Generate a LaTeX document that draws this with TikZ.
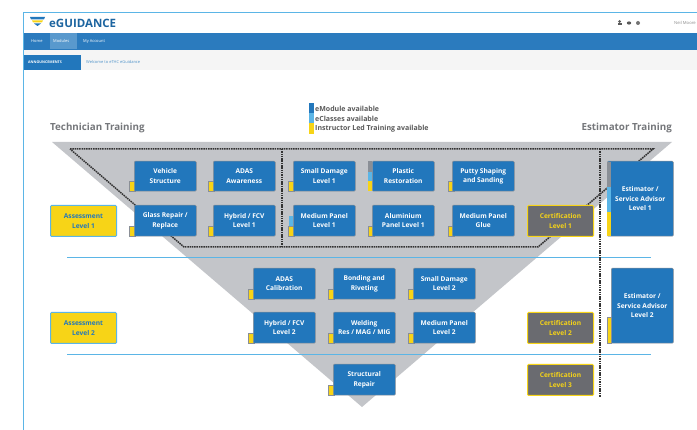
\documentclass[tikz,border=0pt]{standalone}
\usepackage{fontspec}
\setmainfont{Open Sans}
\definecolor{bandblue}{HTML}{2B7BBE}
\definecolor{boxblue}{HTML}{2277BC}
\definecolor{lineblue}{HTML}{5BB5E6}
\definecolor{tri}{HTML}{C3C5C9}
\definecolor{yel}{HTML}{F7D417}
\definecolor{certgray}{HTML}{6A6B70}
\definecolor{edgegray}{HTML}{8A8F96}
\definecolor{titlegray}{HTML}{75777B}
\tikzset{x=1pt,y=-1pt,
 course/.style={fill=boxblue,draw=edgegray,line width=.5pt,rounded corners=1pt,text=white,font=\bfseries\fontsize{6.6}{9.5}\selectfont,align=center,inner sep=0pt,anchor=north west},
 assess/.style={course,fill=yel,draw=lineblue,line width=1pt,text=boxblue},
 cert/.style={course,fill=certgray,draw=yel,line width=1pt,text=yel},
 tag/.style={fill=yel,draw=edgegray,line width=.3pt},
 dashline/.style={line width=1.5pt,draw=black!80,dash pattern=on 1.5pt off .8pt},
 sep/.style={draw=lineblue,line width=.8pt},
 head/.style={font=\bfseries\fontsize{9.8}{11}\selectfont,text=titlegray,anchor=west,inner sep=0pt},
 legendtxt/.style={font=\bfseries\fontsize{7}{8}\selectfont,text=black!65,anchor=west,inner sep=0pt},
 nav/.style={font=\fontsize{4}{5}\selectfont,text=white,anchor=west,inner sep=0pt}}
\newcommand{\crs}[6]{\node[course,minimum width=#3 pt,minimum height=#4 pt] (#5) at (#1,#2) {#6};}
\begin{document}
\begin{tikzpicture}
\useasboundingbox (0,0) rectangle (697,430);
\fill[white] (0,0) rectangle (697,430);
% page frame
\draw[lineblue,line width=.8pt] (697,12.5) -- (23.5,12.5) -- (23.5,430);
\fill[bandblue] (24,33) rectangle (697,50);
\fill[black!4] (24,50) rectangle (697,70);
\fill[boxblue!75!white] (50,33.5) rectangle (77,49.5);
\node[nav] (home) at (31,41.5) {Home};
\node[nav] (mods) at (53,41.5) {Modules};
\node[nav] (acc) at (83,41.5) {My Account};
\fill[boxblue] (24,55) rectangle (81,70);
\node[nav,font=\bfseries\fontsize{3.6}{5}\selectfont] (ann) at (28,62.5) {ANNOUNCEMENTS};
\node[nav,text=boxblue!80] (wel) at (86,62.5) {Welcome to eTHC eGuidance};
% logo
\fill[boxblue] (30,17) -- (45,17) -- (44,19.5) -- (31,19.5) -- cycle;
\fill[yel] (32,20.5) -- (43,20.5) -- (42,22.5) -- (33,22.5) -- cycle;
\fill[boxblue] (34,23.5) -- (41,23.5) -- (37.5,26) -- cycle;
\node[font=\bfseries\fontsize{11.5}{13}\selectfont,text=boxblue!85!black,anchor=west,inner sep=0pt] (logo) at (49,23) {eGUIDANCE};
\node[font=\fontsize{4.2}{5}\selectfont,text=black!45,anchor=east,inner sep=0pt] (user) at (696,23) {Neil Moore};
\fill[black!65] (619.5,21.5) circle (1.5);
\fill[black!65] (617.5,25) rectangle (621.5,23);
\fill[black!65] (629,23) ellipse (2.2 and 1.6);
\fill[black!55] (638,23) circle (2);
% triangle
\fill[tri] (52,142) -- (672,142) -- (362,407) -- cycle;
% separators
\draw[sep] (67,257) -- (651,257);
\draw[sep] (67,354) -- (651,354);
% dashed
\draw[dashline] (70,149) -- (653,149) -- (538,247) -- (184,247) -- cycle;
\draw[dashline] (282,149) -- (282,247);
\draw[dashline] (600,149) -- (600,397);
% titles and legend
\node[head] (tech) at (50,127.5) {Technician Training};
\node[head,anchor=east] (est) at (672,127.5) {Estimator Training};
\fill[boxblue] (309,103) rectangle (314,113);
\fill[lineblue] (309,113) rectangle (314,123.5);
\fill[yel] (309,123.5) rectangle (314,134);
\node[legendtxt] (l1) at (315,108.5) {eModule available};
\node[legendtxt] (l2) at (315,118.5) {eClasses available};
\node[legendtxt] (l3) at (315,128.5) {Instructor Led Training available};
% small tags (behind boxes)
\foreach \x/\y in {129/181,208/181,288/181,129/226,208/226,288/226,448/181,368/226,448/226,248/289,328/289,408/289,248/333,328/333,408/333,328/385}
 \draw[tag] (\x,\y) rectangle ++(6,10);
\fill[lineblue] (289,216) rectangle (293,226);
% course boxes
\crs{134}{161}{62}{30}{a1}{Vehicle\\Structure}
\crs{213}{161}{62}{30}{a2}{ADAS\\Awareness}
\crs{293}{161}{62}{30}{a3}{Small Damage\\Level 1}
\crs{372}{161}{62}{30}{a4}{Plastic\\Restoration}
\crs{452}{161}{62}{30}{a5}{Putty Shaping\\and Sanding}
\crs{134}{205}{62}{31}{b1}{Glass Repair /\\Replace}
\crs{213}{205}{62}{31}{b2}{Hybrid / FCV\\Level 1}
\crs{293}{205}{62}{31}{b3}{Medium Panel\\Level 1}
\crs{372}{205}{62}{31}{b4}{Aluminium\\Panel Level 1}
\crs{452}{205}{62}{31}{b5}{Medium Panel\\Glue}
\crs{253}{268}{62}{31}{c1}{ADAS\\Calibration}
\crs{333}{268}{62}{31}{c2}{Bonding and\\Riveting}
\crs{413}{268}{62}{31}{c3}{Small Damage\\Level 2}
\crs{253}{312}{62}{31}{d1}{Hybrid / FCV\\Level 2}
\crs{333}{312}{62}{31}{d2}{Welding\\Res / MAG / MIG}
\crs{413}{312}{62}{31}{d3}{Medium Panel\\Level 2}
\crs{333}{364}{62}{31}{e1}{Structural\\Repair}
% plastic stripe
\fill[edgegray] (368,161) rectangle (372,172);
\fill[lineblue] (368,172) rectangle (372,181);
\fill[yel] (368,181) rectangle (372,191);
% assessment and certification
\node[assess,minimum width=66pt,minimum height=31pt] (as1) at (50,205) {Assessment\\Level 1};
\node[assess,minimum width=66pt,minimum height=31pt] (as2) at (50,312) {Assessment\\Level 2};
\node[cert,minimum width=66pt,minimum height=31pt] (ce1) at (527,205) {Certification\\Level 1};
\node[cert,minimum width=66pt,minimum height=31pt] (ce2) at (527,312) {Certification\\Level 2};
\node[cert,minimum width=66pt,minimum height=31pt] (ce3) at (527,364) {Certification\\Level 3};
% estimators
\node[course,minimum width=66pt,minimum height=75pt] (es1) at (607,161) {Estimator /\\Service Advisor\\Level 1};
\fill[edgegray] (607,162) rectangle (611,187);
\fill[lineblue] (607,187) rectangle (611,212);
\fill[yel] (607,212) rectangle (611,236);
\node[course,minimum width=62pt,minimum height=75pt] (es2) at (611,268) {Estimator /\\Service Advisor\\Level 2};
\draw[tag] (607,317) rectangle (611.5,343);
\end{tikzpicture}
\end{document}
